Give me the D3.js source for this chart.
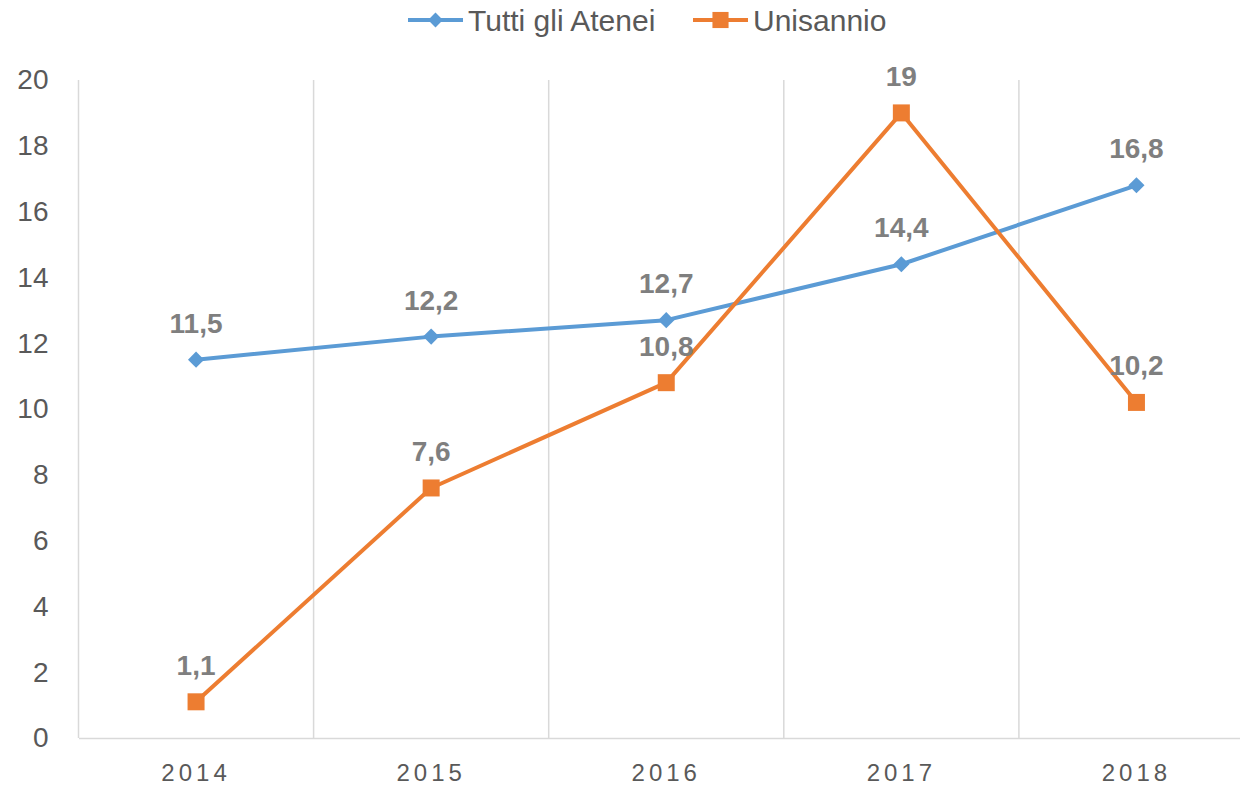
<!DOCTYPE html>
<html>
<head>
<meta charset="utf-8">
<script src="https://cdn.jsdelivr.net/npm/d3@7"></script>
<style>
  body { margin: 0; background: #fff; }
  text { font-family: "Liberation Sans", Arial, sans-serif; }
</style>
</head>
<body>
<div id="chart"></div>
<script>
// Data
var years = ["2014", "2015", "2016", "2017", "2018"];
var tuttiAtenei = [11.5, 12.2, 12.7, 14.4, 16.8];
var unisannio = [1.1, 7.6, 10.8, 19, 10.2];
var yTicks = [0, 2, 4, 6, 8, 10, 12, 14, 16, 18, 20];
var seriesNames = ["Tutti gli Atenei", "Unisannio"];

// Set Up Space
var svgWidth = 1240;
var svgHeight = 790;
var margin = { top: 80, right: -14, bottom: 52, left: 78.5 };
var width = svgWidth - margin.left - margin.right;
var height = svgHeight - margin.top - margin.bottom;

var svg = d3.select("#chart")
  .append("svg")
  .attr("width", svgWidth)
  .attr("height", svgHeight)
  .style("display", "block");

var chartGroup = svg.append("g")
  .attr("transform", `translate(${margin.left}, ${margin.top})`);

// Scales
var xScale = d3.scaleBand()
  .domain(years)
  .range([0, width]);
var yScale = d3.scaleLinear()
  .domain([0, 20])
  .range([height, 0]);

var fmt = function(v) { return String(v).replace(".", ","); };

// Vertical gridlines at category boundaries
chartGroup.append("g")
  .selectAll("line")
  .data(years)
  .enter()
  .append("line")
    .attr("x1", d => xScale(d))
    .attr("x2", d => xScale(d))
    .attr("y1", 0)
    .attr("y2", height)
    .attr("stroke", "#d9d9d9")
    .attr("stroke-width", 1.5);

// Left axis (labels only)
var leftAxis = d3.axisLeft(yScale).tickValues(yTicks).tickSize(0).tickPadding(30);
var yAxisG = chartGroup.append("g").call(leftAxis);
yAxisG.select(".domain").remove();
yAxisG.selectAll("text")
  .attr("fill", "#595959")
  .style("font-size", "28px");

// Bottom axis
var bottomAxis = d3.axisBottom(xScale).tickSize(0).tickPadding(26);
var xAxisG = chartGroup.append("g")
  .attr("transform", `translate(0, ${height})`)
  .call(bottomAxis);
xAxisG.select(".domain")
  .attr("stroke", "#d9d9d9")
  .attr("stroke-width", 1.5);
xAxisG.selectAll("text")
  .attr("fill", "#595959")
  .style("font-size", "24px")
  .style("letter-spacing", "4px");

var cx = d => xScale(d) + xScale.bandwidth() / 2;

var line = d3.line()
  .x(d => cx(d.year))
  .y(d => yScale(d.value));

// diamond = square turned 45 degrees
var series = [
  { name: seriesNames[0], color: "#5b9bd5", size: 130, rot: 45,
    values: years.map((y, i) => ({ year: y, value: tuttiAtenei[i] })) },
  { name: seriesNames[1], color: "#ed7d31", size: 289, rot: 0,
    values: years.map((y, i) => ({ year: y, value: unisannio[i] })) }
];

series.forEach(function(s) {
  chartGroup.append("path")
    .datum(s.values)
    .attr("d", line)
    .attr("fill", "none")
    .attr("stroke", s.color)
    .attr("stroke-width", 4)
    .attr("stroke-linejoin", "round");

  chartGroup.selectAll(null)
    .data(s.values)
    .enter()
    .append("path")
      .attr("d", d3.symbol().type(d3.symbolSquare).size(s.size))
      .attr("transform", d => `translate(${cx(d.year)}, ${yScale(d.value)}) rotate(${s.rot})`)
      .attr("fill", s.color);
});

// Data labels
series.forEach(function(s) {
  chartGroup.selectAll(null)
    .data(s.values)
    .enter()
    .append("text")
      .attr("x", d => cx(d.year))
      .attr("y", d => yScale(d.value) - 27)
      .attr("text-anchor", "middle")
      .attr("fill", "#7f7f7f")
      .style("font-size", "28px")
      .style("font-weight", "bold")
      .text(d => fmt(d.value));
});

// Legend
var legendItems = [
  { name: seriesNames[0], color: "#5b9bd5", size: 110, rot: 45, x: 408 },
  { name: seriesNames[1], color: "#ed7d31", size: 260, rot: 0, x: 693 }
];
var legend = svg.append("g");
legendItems.forEach(function(l) {
  var g = legend.append("g").attr("transform", `translate(${l.x}, 20)`);
  g.append("line")
    .attr("x1", 0).attr("x2", 55)
    .attr("stroke", l.color)
    .attr("stroke-width", 4);
  g.append("path")
    .attr("d", d3.symbol().type(d3.symbolSquare).size(l.size))
    .attr("transform", `translate(27.5, 0) rotate(${l.rot})`)
    .attr("fill", l.color);
  g.append("text")
    .attr("x", 60)
    .attr("dy", "0.35em")
    .attr("fill", "#595959")
    .style("font-size", "30px")
    .text(l.name);
});
</script>
</body>
</html>
